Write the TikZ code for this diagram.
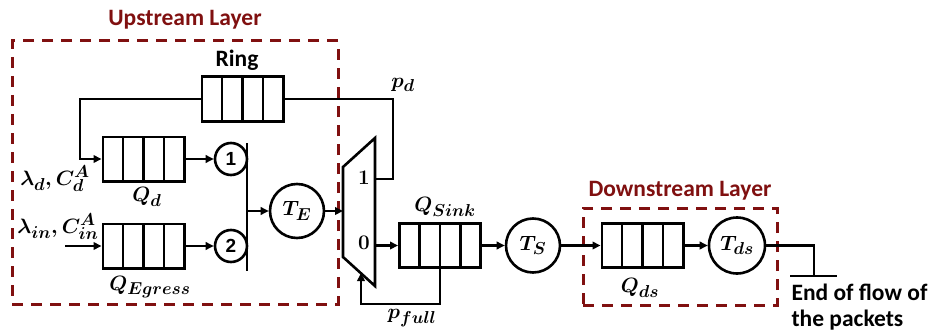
\documentclass[tikz,border=0pt]{standalone}
\usepackage{fontspec}
\setsansfont{Carlito}
\newfontfamily\arialb{Liberation Sans}
\usetikzlibrary{arrows.meta,calc}
\definecolor{dred}{RGB}{128,16,16}
\DeclareMathSizes{21}{21}{16}{12}
\begin{document}
\begin{tikzpicture}[x=1pt,y=-1pt,
  ln/.style={line width=2.6pt},
  arr/.style={line width=2.6pt,-{Triangle[length=8pt,width=7.5pt]}},
  queue/.style={draw,line width=2.6pt,minimum width=81.4pt,minimum height=44.4pt,inner sep=0pt,
    path picture={\foreach \i in {1,2,3}{
      \draw[line width=2.6pt] ($(path picture bounding box.south west)!\i/4!(path picture bounding box.south east)$) --
        ($(path picture bounding box.north west)!\i/4!(path picture bounding box.north east)$);}}},
  srv/.style={draw,circle,line width=2.6pt,inner sep=0pt,fill=white},
  lyr/.style={draw=dred,line width=3pt,dash pattern=on 11pt off 8pt,inner sep=0pt},
  lyrlbl/.style={text=dred,font=\sffamily\bfseries\fontsize{23.5}{28}\selectfont},
  lbl/.style={font=\sffamily\bfseries\fontsize{23.5}{28}\selectfont},
  mth/.style={font=\fontsize{21}{25}\selectfont\boldmath},
  num/.style={font=\arialb\bfseries\fontsize{19}{21}\selectfont},
]
\useasboundingbox (0,0) rectangle (933,334);
% layer boxes
\node[lyr,minimum width=326pt,minimum height=263pt] (up) at (175,172.5) {};
\node[lyr,minimum width=194pt,minimum height=97pt] (down) at (680,256.5) {};
\node[lyrlbl] (uplbl) at (185,20) {Upstream Layer};
\node[lyrlbl] (downlbl) at (680,191) {Downstream Layer};
% queues
\node[queue] (ring) at (242.5,99) {};
\node[queue] (Qd) at (143.5,159) {};
\node[queue] (QE) at (143.5,246) {};
\node[queue] (QS) at (440,245.5) {};
\node[queue] (Qds) at (642.5,245.5) {};
% servers
\node[srv,minimum size=32pt,num] (c1) at (231,159) {1};
\node[srv,minimum size=32pt,num] (c2) at (231,246) {2};
\node[srv,minimum size=54pt,mth] (TE) at (297,211) {$T_E$};
\node[srv,minimum size=54pt,mth] (TS) at (533,245.5) {$T_S$};
\node[srv,minimum size=56pt,mth] (Tds) at (737,245.5) {$T_{ds}$};
% mux
\coordinate (m1) at (343,167);
\coordinate (m2) at (375,138);
\coordinate (m3) at (375,286);
\coordinate (m4) at (343,257);
\draw[ln,line join=miter,fill=white] (m1) -- (m2) -- (m3) -- (m4) -- cycle;
\node[mth] (one) at (364,178) {$\mathbf{1}$};
\node[mth] (zero) at (364,243) {$\mathbf{0}$};
% labels
\node[lbl] (ringlbl) at (237,60) {Ring};
\node[mth] (Qdl) at (147,197) {$Q_d$};
\node[mth] (QEl) at (150,287) {$Q_{Egress}$};
\node[mth] (QSl) at (445,207) {$Q_{Sink}$};
\node[mth] (Qdsl) at (640,288) {$Q_{ds}$};
\node[mth] (pdl) at (403,85) {$p_d$};
\node[mth] (pfl) at (412,318) {$p_{full}$};
\node[mth] (ld) at (55,179) {$\lambda_d, C_d^A$};
\node[mth] (lin) at (58,227) {$\lambda_{in}, C_{in}^A$};
% coordinates
\coordinate (rl) at (80,99);
\coordinate (rl2) at (80,159);
\coordinate (rr) at (393,99);
\coordinate (rr2) at (393,179);
\coordinate (mo1) at (375,179);
\coordinate (mo0) at (375,245.5);
\coordinate (muxin) at (343,211);
\coordinate (bt) at (247,143);
\coordinate (bb) at (247,271);
\coordinate (bm) at (247,211);
\coordinate (in) at (65,246);
\coordinate (pf1) at (440,304);
\coordinate (pf2) at (361,304);
\coordinate (pf3) at (361,273);
\coordinate (o1) at (814,245.5);
\coordinate (o2) at (814,276);
\coordinate (g1) at (790,276);
\coordinate (g2) at (837,276);
% connectors
\draw[arr] (ring.west) -- (rl) -- (rl2) -- (Qd.west);
\draw[ln] (ring.east) -- (rr) -- (rr2) -- (mo1);
\draw[arr] (in) -- (QE.west);
\draw[arr] (Qd.east) -- (c1.west);
\draw[arr] (QE.east) -- (c2.west);
\draw[ln] (bt) -- (bb);
\draw[arr] (bm) -- (TE.west);
\draw[arr] (TE.east) -- (muxin);
\draw[arr] (mo0) -- (QS.west);
\draw[arr] (QS.south) -- (pf1) -- (pf2) -- (pf3);
\draw[arr] (QS.east) -- (TS.west);
\draw[arr] (TS.east) -- (Qds.west);
\draw[arr] (Qds.east) -- (Tds.west);
\draw[ln] (Tds.east) -- (o1) -- (o2);
\draw[ln] (g1) -- (g2);
\node[lbl,anchor=north west,align=left,font=\sffamily\bfseries\fontsize{23.5}{26}\selectfont] (endl) at (788,280) {End of flow of\\the packets};
\end{tikzpicture}
\end{document}
